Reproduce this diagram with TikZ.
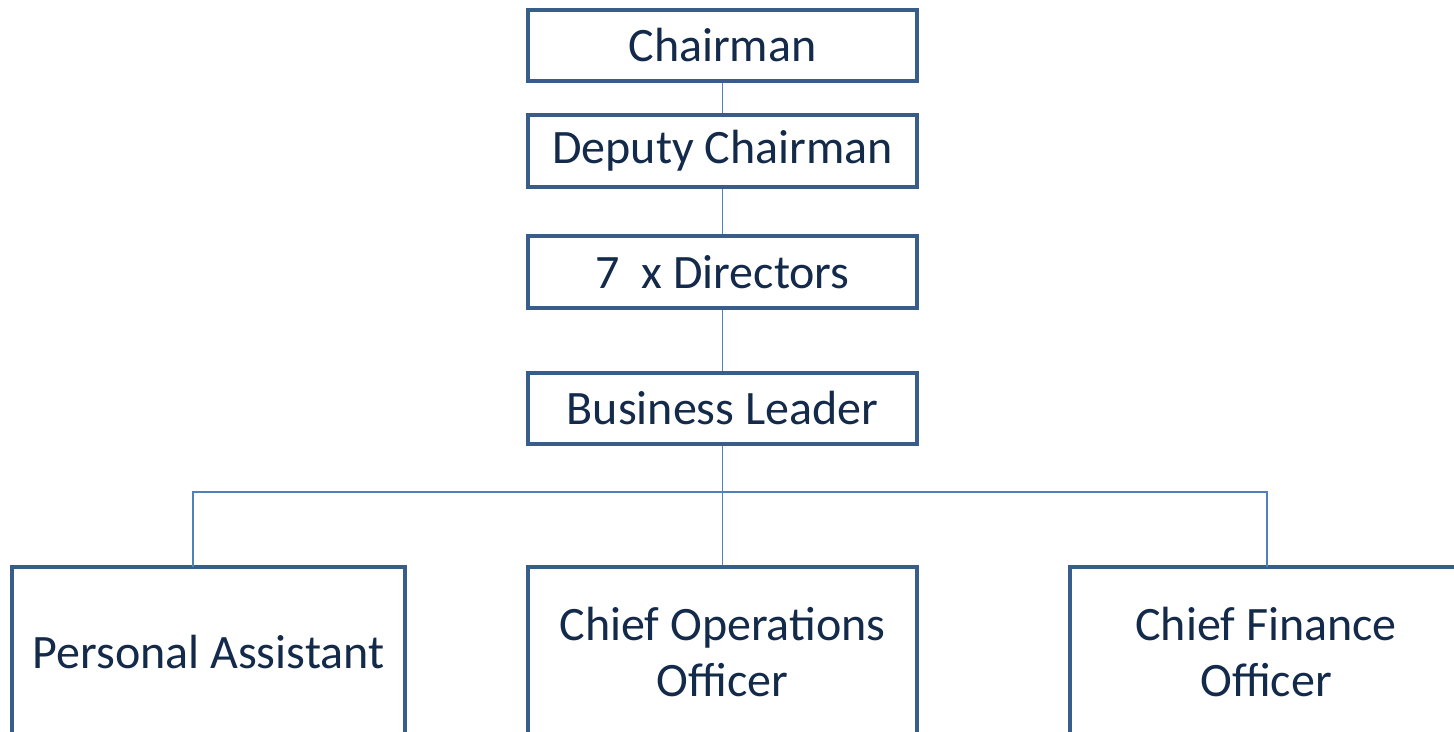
\documentclass[tikz,border=0pt]{standalone}
\usepackage{fontspec}
\setmainfont{Carlito}
\definecolor{boxline}{HTML}{385D8A}
\definecolor{conn}{HTML}{4F81BD}
\definecolor{txt}{HTML}{142A4A}
\begin{document}
\begin{tikzpicture}[x=0.5pt,y=-0.5pt,
  orgbox/.style={draw=boxline,line width=2pt,fill=white,rectangle,inner sep=0pt,
    minimum width=194.5pt,minimum height=35.75pt,text=txt,font=\fontsize{24}{28}\selectfont,align=center},
  lowbox/.style={orgbox,minimum height=85pt},
  link/.style={draw=conn,line width=0.8pt}]
\clip (0,0) rectangle (1454,732);
\fill[white] (0,0) rectangle (1454,732);
\node[orgbox] (ch) at (722.5,45.5) {Chairman};
\node[orgbox] (dc) at (722.5,151) {Deputy Chairman};
\node[orgbox] (di) at (722.5,272) {7\ \ x Directors};
\node[orgbox] (bl) at (722.5,408.5) {Business Leader};
\node[lowbox,minimum width=196.5pt] (pa) at (208.5,652) {Personal Assistant};
\node[lowbox] (coo) at (722.5,652) {Chief Operations\\Officer};
\node[lowbox,minimum width=196pt] (cfo) at (1266,652) {Chief Finance\\Officer};
\coordinate (busl) at (193,492);
\coordinate (busr) at (1267,492);
\coordinate (pat) at (193,567);
\coordinate (cfot) at (1267,567);
\draw[link] (ch.south) -- (dc.north);
\draw[link] (dc.south) -- (di.north);
\draw[link] (di.south) -- (bl.north);
\draw[link] (bl.south) -- (coo.north);
\draw[link] (pat) -- (busl) -- (busr) -- (cfot);
\end{tikzpicture}
\end{document}
